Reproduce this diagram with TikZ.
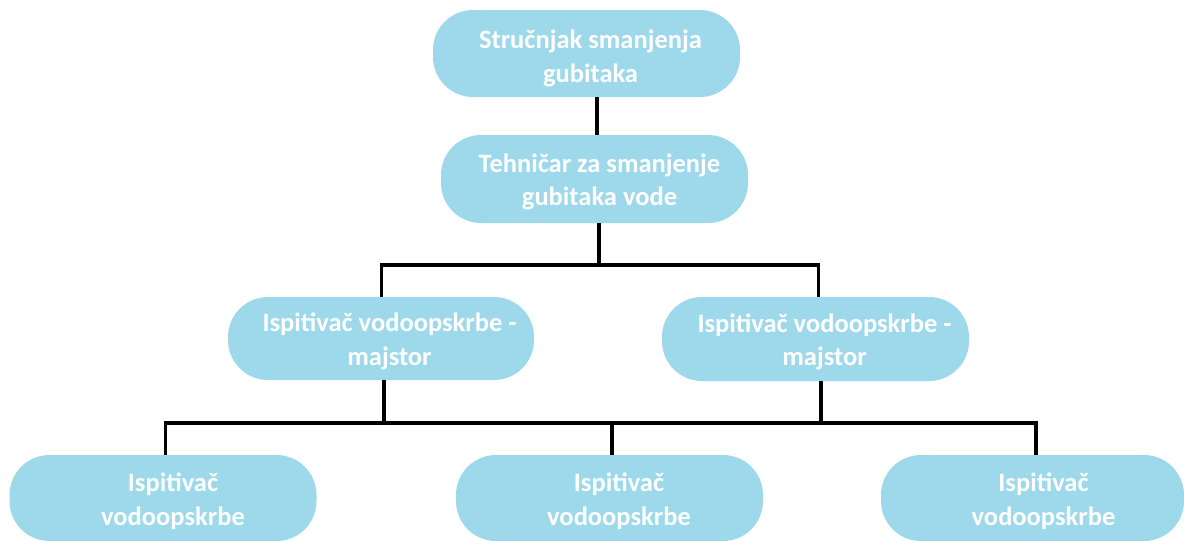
\documentclass[tikz,border=0pt]{standalone}
\usepackage{fontspec}
\setmainfont{Carlito}
\definecolor{boxblue}{HTML}{9DD9EA}
\newcommand{\shln}[3]{\hspace*{#1}\raisebox{-#2}[\height][\depth]{#3}}
\tikzset{
  box/.style={fill=boxblue, draw=none, rounded corners=40pt, minimum width=#1, minimum height=86pt,
    inner sep=0pt, align=center, text=white, font=\bfseries\fontsize{26.5}{33.5}\selectfont},
  box/.default=307pt,
  conn/.style={draw=black, line width=3.6pt, line join=miter}
}
\begin{document}
\begin{tikzpicture}[x=1pt,y=-1pt]
\useasboundingbox (0,0) rectangle (1184,541);
\node[box, minimum height=87pt] (n1) at (586.5,53.5) {\shln{8pt}{5pt}{Stručnjak smanjenja}\\\shln{8pt}{5pt}{gubitaka}};
\node[box, minimum height=88pt] (n2) at (594.5,179) {\shln{10pt}{3pt}{Tehničar za smanjenje}\\\shln{10pt}{3pt}{gubitaka vode}};
\node[box=306pt, minimum height=83pt] (n3) at (381,338.5) {\shln{17pt}{3pt}{Ispitivač vodoopskrbe -}\\\shln{17pt}{3pt}{majstor}};
\node[box, minimum height=84pt] (n4) at (815.5,339) {\shln{18pt}{3pt}{Ispitivač vodoopskrbe -}\\\shln{18pt}{3pt}{majstor}};
\node[box] (n5) at (163,498) {\shln{20pt}{3.5pt}{Ispitivač}\\\shln{20pt}{3.5pt}{vodoopskrbe}};
\node[box] (n6) at (609.5,498) {\shln{19pt}{3.5pt}{Ispitivač}\\\shln{19pt}{3.5pt}{vodoopskrbe}};
\node[box=303pt] (n7) at (1032.5,498) {\shln{22pt}{3.5pt}{Ispitivač}\\\shln{22pt}{3.5pt}{vodoopskrbe}};
\coordinate (x12) at (597,0);
\coordinate (x2) at (599,0);
\coordinate (x3) at (381.5,0);
\coordinate (x4) at (818.5,0);
\coordinate (x3b) at (384,0);
\coordinate (x4b) at (821,0);
\coordinate (x5) at (165.5,0);
\coordinate (x6) at (612,0);
\coordinate (x7) at (1036,0);
\coordinate (h1) at (0,265);
\coordinate (h2) at (0,423);
\draw[conn] (n1.south -| x12) -- (n2.north -| x12);
\draw[conn] (n2.south -| x2) -- (h1 -| x2);
\draw[conn] (n3.north -| x3) -- (h1 -| x3) -- (h1 -| x4) -- (n4.north -| x4);
\draw[conn] (n3.south -| x3b) -- (h2 -| x3b);
\draw[conn] (n4.south -| x4b) -- (h2 -| x4b);
\draw[conn] (n5.north -| x5) -- (h2 -| x5) -- (h2 -| x7) -- (n7.north -| x7);
\draw[conn] (h2 -| x6) -- (n6.north -| x6);
\end{tikzpicture}
\end{document}
